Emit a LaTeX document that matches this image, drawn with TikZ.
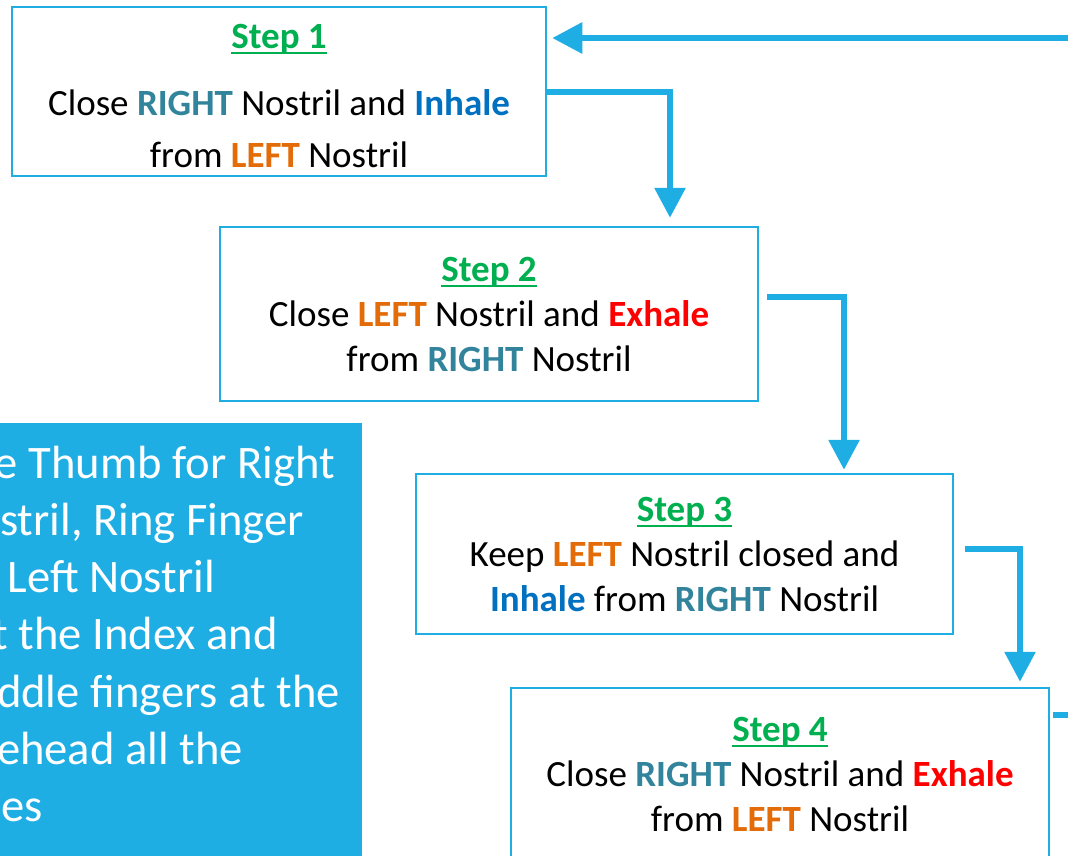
\documentclass[tikz,border=0pt]{standalone}
\usepackage{fontspec}
\setmainfont{Carlito}
\usetikzlibrary{arrows.meta}
\definecolor{stepgreen}{HTML}{00B050}
\definecolor{rightc}{HTML}{31849B}
\definecolor{inhalec}{HTML}{0070C0}
\definecolor{leftc}{HTML}{E36C09}
\definecolor{exhalec}{HTML}{FF0000}
\definecolor{flow}{HTML}{1FAEE4}
\newcommand\stephead[1]{\setbox0\hbox{\textbf{#1}}\rlap{\rule[-6pt]{\wd0}{2.5pt}}\box0}
\newcommand\kw[2]{{\bfseries\color{#1}#2}}
\begin{document}
\begin{tikzpicture}[x=1pt,y=-1pt,
  stepbox/.style={draw=flow, line width=2.5pt, fill=white, align=center, inner sep=0pt,
    font=\fontsize{37}{45}\selectfont},
  flowline/.style={draw=flow, line width=6pt, -{Triangle[length=30pt,width=30pt]}},
  note/.style={text=white, font=\fontsize{46.6}{57}\selectfont, anchor=base east, inner sep=0pt}]
\useasboundingbox (0,0) rectangle (1068,855);
\clip (0,0) rectangle (1068,855);

\node[stepbox, minimum width=534pt, minimum height=169pt, font=\fontsize{37}{52}\selectfont] (s1) at (279,91.5)
 {\rule{0pt}{33pt}{\color{stepgreen}\stephead{Step 1}}\\[15pt]
  Close \kw{rightc}{RIGHT} Nostril and \kw{inhalec}{Inhale}\\
  from \kw{leftc}{LEFT} Nostril};
\node[stepbox, minimum width=538pt, minimum height=174pt] (s2) at (489,314)
 {{\color{stepgreen}\stephead{Step 2}}\\
  Close \kw{leftc}{LEFT} Nostril and \kw{exhalec}{Exhale}\\
  from \kw{rightc}{RIGHT} Nostril};
\node[stepbox, minimum width=537pt, minimum height=160pt] (s3) at (684.5,554)
 {{\color{stepgreen}\stephead{Step 3}}\\
  Keep \kw{leftc}{LEFT} Nostril closed and\\
  \kw{inhalec}{Inhale} from \kw{rightc}{RIGHT} Nostril};
\node[stepbox, minimum width=538pt, minimum height=172pt] (s4) at (780,774)
 {{\color{stepgreen}\stephead{Step 4}}\\
  Close \kw{rightc}{RIGHT} Nostril and \kw{exhalec}{Exhale}\\
  from \kw{leftc}{LEFT} Nostril};

\draw[flowline, shorten >=8pt] (s1.east) -| ([xshift=181pt]s2.north);
\draw[flowline, shorten >=3pt] ([xshift=8pt,yshift=17pt]s2.east) -| ([xshift=159.5pt]s3.north);
\draw[flowline, shorten >=5pt] ([xshift=11pt,yshift=5pt]s3.east) -| ([xshift=240pt]s4.north);
\draw[flowline] ([xshift=3pt,yshift=59pt]s4.east) -- ++(50,0) |- ([xshift=5pt,yshift=53.5pt]s1.east);

\node[fill=flow, inner sep=0pt, minimum width=400pt, minimum height=450pt, anchor=north east] (tip) at (362,423) {};
\node[note] (t1) at (335,478) {e Thumb for Right};
\node[note] (t2) at (304,535) {stril, Ring Finger};
\node[note] (t3) at (215,592) {Left Nostril};
\node[note] (t4) at (278,649) {t the Index and};
\node[note] (t5) at (340,707) {ddle fingers at the};
\node[note] (t6) at (243,764) {ehead all the};
\node[note] (t7) at (43,821) {es};
\end{tikzpicture}
\end{document}
